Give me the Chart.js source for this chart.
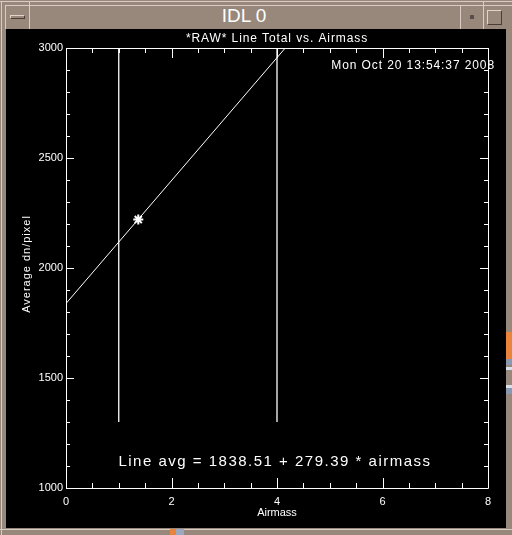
<!DOCTYPE html>
<html>
<head>
<meta charset="utf-8">
<script src="https://cdn.jsdelivr.net/npm/chart.js@4"></script>
<style>
  html, body { margin: 0; padding: 0; }
  body { width: 512px; height: 535px; background: #98887c; position: relative; overflow: hidden;
         font-family: "Liberation Sans", Arial, sans-serif; }
  .line { position: absolute; }
  #plotBox { position: absolute; left: 6px; top: 29px; width: 500px; height: 499px; background: #000; }
  #titleText { position: absolute; left: 0; width: 488px; top: 5px; text-align: center;
               color: #fff; font-size: 19px; line-height: 22px; }
</style>
</head>
<body>
<!-- window frame bits -->
<div class="line" style="left:0;top:1px;width:512px;height:1px;background:#d8ccc4"></div>
<div class="line" style="left:5px;top:5px;width:507px;height:1px;background:#d8ccc4"></div>
<div class="line" style="left:1px;top:1px;width:1px;height:534px;background:#d8ccc4"></div>
<div class="line" style="left:5px;top:5px;width:1px;height:24px;background:#d8ccc4"></div>
<div class="line" style="left:29px;top:1px;width:1px;height:28px;background:#d8ccc4"></div>
<div class="line" style="left:460px;top:5px;width:1px;height:24px;background:#d8ccc4"></div>
<div class="line" style="left:483px;top:1px;width:1px;height:28px;background:#d8ccc4"></div>
<div class="line" style="left:10px;top:15px;width:15px;height:4px;border:1px solid #4a3e38;border-top-color:#e0d4cc;border-left-color:#e0d4cc;box-sizing:border-box"></div>
<div class="line" style="left:470px;top:15px;width:4px;height:4px;background:#5a4e48"></div>
<div class="line" style="left:487px;top:10px;width:15px;height:15px;border:1px solid #4a3e38;border-top-color:#e0d4cc;border-left-color:#e0d4cc;box-sizing:border-box"></div>
<div id="titleText">IDL 0</div>
<div class="line" style="left:0;top:529px;width:512px;height:1px;background:#d8ccc4"></div>
<div class="line" style="left:506px;top:332px;width:6px;height:27px;background:#e8843c"></div>
<div class="line" style="left:506px;top:359px;width:6px;height:6px;background:#8898b0"></div>
<div class="line" style="left:506px;top:367px;width:6px;height:3px;background:#d8e0ec"></div>
<div class="line" style="left:506px;top:385px;width:6px;height:3px;background:#d8e0ec"></div>
<div class="line" style="left:506px;top:388px;width:6px;height:6px;background:#8898b0"></div>
<div class="line" style="left:170px;top:529px;width:6px;height:6px;background:#e8843c"></div>
<div class="line" style="left:176px;top:529px;width:8px;height:6px;background:#9aa8c0"></div>

<div id="plotBox"><canvas id="chart" width="500" height="499"></canvas></div>

<script>
// ----- data -----
const fitX = [0, 8];
const fitY = [1838.51, 4073.63];
const pointX = [1.37];
const pointY = [2220];
const markerX = [1, 4];          // vertical reference lines
const markerYRange = [1300, 3100];

const xTicks = [0, 2, 4, 6, 8];
const yTicks = [1000, 1500, 2000, 2500, 3000];

const titleText = '*RAW* Line Total vs. Airmass';
const dateText = 'Mon Oct 20 13:54:37 2008';
const fitText = 'Line avg = 1838.51 + 279.39 * airmass';
const xTitle = 'Airmass';
const yTitle = 'Average dn/pixel';

const FONT = '"Liberation Sans", Arial, sans-serif';

// IDL style box with inward ticks plus annotations
const idlFrame = {
    id: 'idlFrame',
    afterDraw(chart) {
        const ctx = chart.ctx;
        const a = chart.chartArea;
        const xs = chart.scales.x, ys = chart.scales.y;
        ctx.save();
        ctx.strokeStyle = '#fff';
        ctx.lineWidth = 1;
        ctx.beginPath();
        ctx.rect(Math.round(a.left) + 0.5, Math.round(a.top) + 0.5,
                 Math.round(a.right - a.left), Math.round(a.bottom - a.top));
        // x ticks every 0.5, major on the labelled values
        for (let v = xs.min; v <= xs.max + 1e-9; v += 0.5) {
            const px = Math.round(xs.getPixelForValue(v)) + 0.5;
            const len = xTicks.includes(v) ? 10 : 5;
            ctx.moveTo(px, a.bottom); ctx.lineTo(px, a.bottom - len);
            ctx.moveTo(px, a.top); ctx.lineTo(px, a.top + len);
        }
        // y ticks every 100
        for (let v = ys.min; v <= ys.max + 1e-9; v += 100) {
            const py = Math.round(ys.getPixelForValue(v)) + 0.5;
            const len = yTicks.includes(v) ? 8 : 4;
            ctx.moveTo(a.left, py); ctx.lineTo(a.left + len, py);
            ctx.moveTo(a.right, py); ctx.lineTo(a.right - len, py);
        }
        ctx.stroke();

        ctx.fillStyle = '#fff';
        ctx.textBaseline = 'middle';
        ctx.font = '12px ' + FONT;
        ctx.letterSpacing = '0.9px';
        ctx.textAlign = 'center';
        ctx.fillText(titleText, (a.left + a.right) / 2, a.top - 9);
        ctx.textAlign = 'right';
        ctx.fillText(dateText, a.right + 7, a.top + 18);
        ctx.font = '15px ' + FONT;
        ctx.letterSpacing = '1.5px';
        ctx.textAlign = 'center';
        ctx.fillText(fitText, (a.left + a.right) / 2 - 2, a.bottom - 26);
        ctx.font = '11px ' + FONT;
        ctx.letterSpacing = '0px';
        ctx.fillText(xTitle, (a.left + a.right) / 2, a.bottom + 25);
        ctx.letterSpacing = '1px';
        ctx.translate(21, (a.top + a.bottom) / 2 - 4);
        ctx.rotate(-Math.PI / 2);
        ctx.fillText(yTitle, 0, 0);
        ctx.restore();
    }
};

const datasets = [
    {
        data: fitX.map((x, i) => ({ x: x, y: fitY[i] })),
        borderColor: '#fff', borderWidth: 1, pointRadius: 0, showLine: true
    },
    {
        data: pointX.map((x, i) => ({ x: x, y: pointY[i] })),
        borderColor: '#fff', backgroundColor: '#fff', borderWidth: 2,
        pointStyle: 'star', pointRadius: 5, showLine: false
    }
];
markerX.forEach(mx => {
    datasets.push({
        data: markerYRange.map(y => ({ x: mx, y: y })),
        borderColor: '#fff', borderWidth: 1.3, pointRadius: 0, showLine: true
    });
});

new Chart(document.getElementById('chart').getContext('2d'), {
    type: 'scatter',
    data: { datasets: datasets },
    options: {
        responsive: false,
        animation: false,
        layout: { padding: { left: 0, right: 18, top: 19, bottom: 0 } },
        plugins: { legend: { display: false }, tooltip: { enabled: false } },
        scales: {
            x: {
                type: 'linear', min: 0, max: 8,
                afterFit: s => { s.height = 40; },
                afterBuildTicks: s => { s.ticks = xTicks.map(v => ({ value: v })); },
                grid: { display: false, drawTicks: false },
                border: { display: false },
                ticks: { color: '#fff', padding: 7, maxRotation: 0, font: { family: FONT, size: 11 },
                         callback: v => String(v) }
            },
            y: {
                type: 'linear', min: 1000, max: 3000,
                afterFit: s => { s.width = 60; },
                afterBuildTicks: s => { s.ticks = yTicks.map(v => ({ value: v })); },
                grid: { display: false, drawTicks: false },
                border: { display: false },
                ticks: { color: '#fff', padding: 3, font: { family: FONT, size: 11 },
                         callback: v => String(v) }
            }
        }
    },
    plugins: [idlFrame]
});
</script>
</body>
</html>
